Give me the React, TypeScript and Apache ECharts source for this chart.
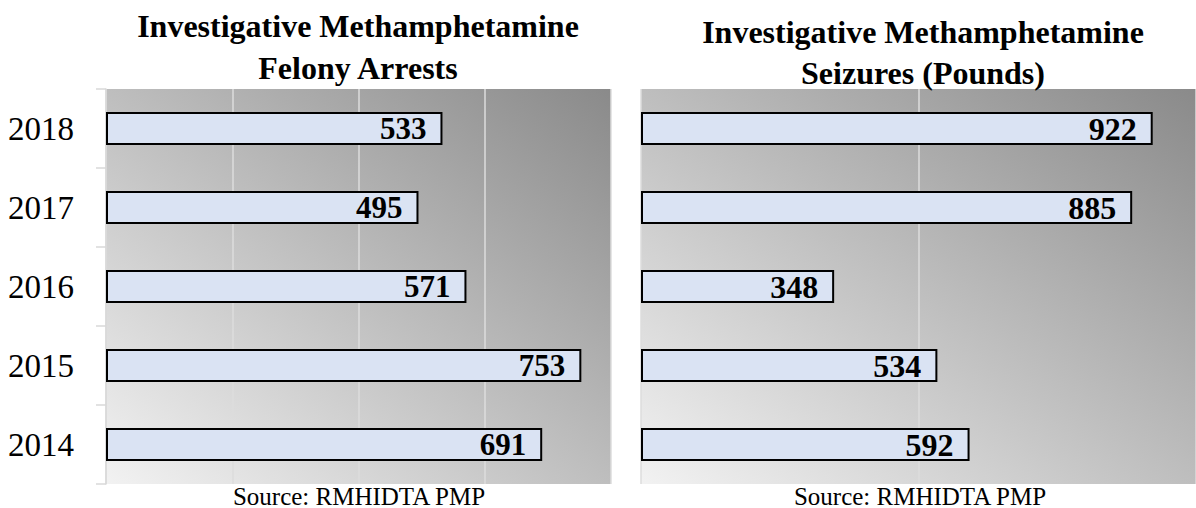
import React, { useEffect, useRef } from "react";
import * as echarts from "echarts";

const years = ["2014", "2015", "2016", "2017", "2018"];
const arrests = [691, 753, 571, 495, 533];
const seizures = [592, 534, 348, 885, 922];
const leftTitle = ["Investigative Methamphetamine", "Felony Arrests"];
const rightTitle = ["Investigative Methamphetamine", "Seizures (Pounds)"];
const sourceText = "Source: RMHIDTA PMP";

const FONT = "'Liberation Serif', 'Times New Roman', serif";

export default function App() {
  const ref = useRef<HTMLDivElement>(null);
  useEffect(() => {
    if (!ref.current) return;
    const chart = echarts.init(ref.current, null, { renderer: "svg" });
    const bg = () =>
      new echarts.graphic.LinearGradient(0, 1, 1, 0, [
        { offset: 0, color: "#f2f2f2" },
        { offset: 1, color: "#8a8a8a" },
      ]);
    const splitLine = { show: true, lineStyle: { color: "#dcdcdc", width: 1.5 } };
    const barStyle = {
      color: "#dae3f3",
      borderColor: "#000000",
      borderWidth: 2,
    };
    const label = (size: number) => ({
      show: true,
      position: "insideRight",
      distance: 16,
      color: "#000",
      fontFamily: FONT,
      fontWeight: "bold",
      fontSize: size,
    });
    const titleText = (text: string, x: number, y: number) => ({
      type: "text",
      style: {
        text,
        x,
        y,
        textAlign: "center",
        textVerticalAlign: "middle",
        font: `bold 32px ${FONT}`,
        fill: "#000",
      },
    });
    const srcText = (x: number) => ({
      type: "text",
      style: {
        text: sourceText,
        x,
        y: 496,
        textAlign: "center",
        textVerticalAlign: "middle",
        font: `25px ${FONT}`,
        fill: "#000",
      },
    });
    chart.setOption({
      animation: false,
      backgroundColor: "#ffffff",
      grid: [
        { left: 106, top: 89, width: 505, height: 395, show: true, borderWidth: 0, backgroundColor: bg() },
        { left: 641, top: 89, width: 563, height: 395, show: true, borderWidth: 0, backgroundColor: bg() },
      ],
      xAxis: [
        {
          gridIndex: 0, type: "value", min: 0, max: 800, interval: 200,
          axisLabel: { show: false }, axisLine: { show: false }, axisTick: { show: false },
          splitLine,
        },
        {
          gridIndex: 1, type: "value", min: 0, max: 1000, interval: 500,
          axisLabel: { show: false }, axisLine: { show: false }, axisTick: { show: false },
          splitLine,
        },
      ],
      yAxis: [
        {
          gridIndex: 0, type: "category", data: years,
          axisLine: { show: true, lineStyle: { color: "#d9d9d9", width: 1.5 } },
          axisTick: { show: true, length: 10, lineStyle: { color: "#d9d9d9", width: 1.5 } },
          axisLabel: { color: "#000", fontFamily: FONT, fontSize: 33, margin: 32 },
        },
        {
          gridIndex: 1, type: "category", data: years,
          axisLine: { show: false }, axisTick: { show: false }, axisLabel: { show: false },
        },
      ],
      series: [
        {
          type: "bar", xAxisIndex: 0, yAxisIndex: 0, data: arrests,
          barWidth: 33, itemStyle: barStyle, label: label(31),
        },
        {
          type: "bar", xAxisIndex: 1, yAxisIndex: 1, data: seizures,
          barWidth: 33, itemStyle: barStyle, label: label(32),
        },
      ],
      graphic: [
        titleText(leftTitle[0], 358, 26),
        titleText(leftTitle[1], 358, 68),
        titleText(rightTitle[0], 923, 32),
        titleText(rightTitle[1], 923, 73),
        srcText(359),
        srcText(920),
      ],
    });
    return () => chart.dispose();
  }, []);
  return (
    <div
      ref={ref}
      style={{ position: "fixed", left: 0, top: 0, width: 1196, height: 508 }}
    />
  );
}
